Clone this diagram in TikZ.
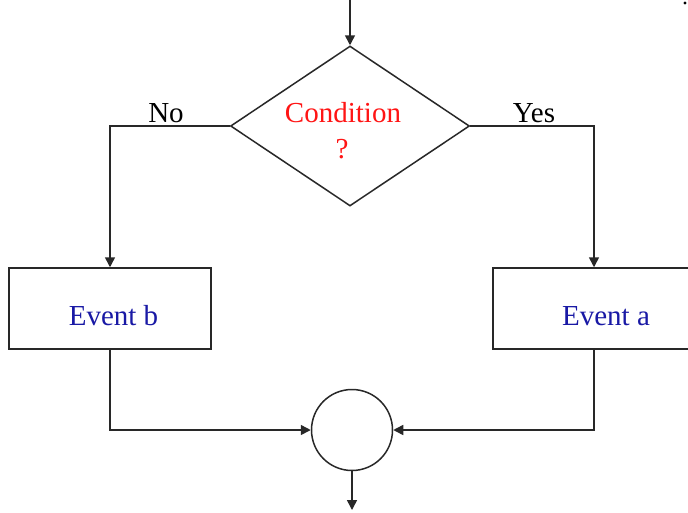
\documentclass[tikz,border=0pt]{standalone}
\usepackage{fontspec}
\setmainfont{Liberation Serif}
\usetikzlibrary{shapes.geometric,arrows.meta}
\definecolor{condred}{RGB}{255,20,20}
\definecolor{evblue}{RGB}{25,25,165}
\definecolor{linegray}{RGB}{40,40,40}
\begin{document}
\begin{tikzpicture}[x=1pt,y=-1pt,
  line/.style={draw=linegray, line width=1.5pt},
  arr/.style={line, -{Triangle[length=10pt,width=10pt]}},
  txt/.style={font=\fontsize{29}{36}\selectfont, inner sep=0, anchor=base},
  eventbox/.style={line, rectangle, inner sep=0, minimum width=202pt, minimum height=81pt},
]
\useasboundingbox (0,0) rectangle (688,512);
\clip (0,0) rectangle (688,512);
\fill[white] (0,0) rectangle (688,512);

% nodes
\coordinate (in) at (350,0);
\node[line, diamond, aspect=1.5, inner sep=0, minimum width=239pt, minimum height=160pt] (cond) at (350,126) {};
\node[txt, text=condred] (condtxt) at (343,122) {Condition};
\node[txt, text=condred] (qmark) at (342,158) {?};

\node[eventbox] (eb) at (110,308.5) {};
\node[txt, text=evblue] (ebtxt) at (113.5,325) {Event b};
\node[eventbox] (ea) at (594,308.5) {};
\node[txt, text=evblue] (eatxt) at (606,325) {Event a};

\node[line, circle, inner sep=0, minimum size=81pt] (join) at (352,430) {};
\coordinate (out) at (352,510);

% labels
\node[txt] (nolab) at (166,122) {No};
\node[txt] (yeslab) at (534,122) {Yes};

% connectors
\draw[arr] (in) -- (cond.north);
\draw[arr] (cond.west) -| (eb.north);
\draw[arr] (cond.east) -| (ea.north);
\draw[arr] (eb.south) |- (join.west);
\draw[arr] (ea.south) |- (join.east);
\draw[arr] (join.south) -- (out);

% stray dot
\fill[black] (685,3) circle (1.6pt);
\end{tikzpicture}
\end{document}
